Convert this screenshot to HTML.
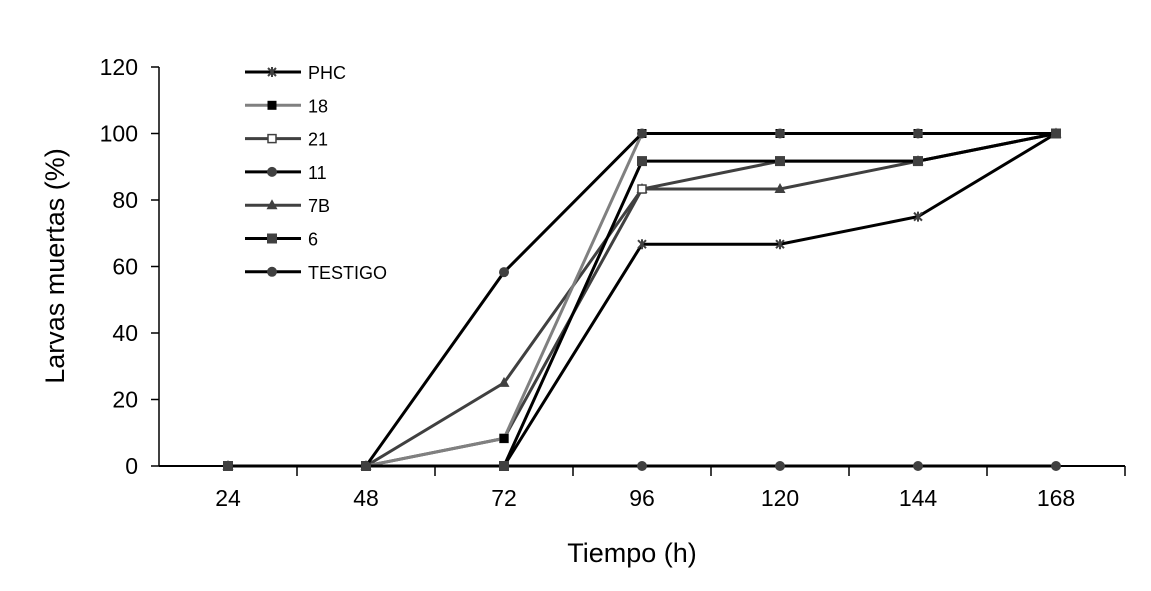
<!DOCTYPE html>
<html><head><meta charset="utf-8"><style>
body{margin:0;background:#fff}
svg{display:block;font-family:"Liberation Sans",Arial,sans-serif}
</style></head><body>
<svg id="chart" width="1151" height="591"></svg>
<script>
const categories=["24","48","72","96","120","144","168"];
const yTicks=[0,20,40,60,80,100,120];
const seriesNames=["PHC","18","21","11","7B","6","TESTIGO"];
const phc=[0,0,0,66.7,66.7,75,100];
const s18=[0,0,8.3,100,100,100,100];
const s21=[0,0,8.3,83.3,91.7,91.7,100];
const s11=[0,0,58.3,100,100,100,100];
const s7b=[0,0,25,83.3,83.3,91.7,100];
const s6=[0,0,0,91.7,91.7,91.7,100];
const testigo=[0,0,0,0,0,0,0];
const values=[phc,s18,s21,s11,s7b,s6,testigo];
const colors=["#000","#808080","#404040","#000","#404040","#000","#000"];
const markers=["x","fsq","osq","circ","tri","sq","circ"];

const NS="http://www.w3.org/2000/svg";
const svg=document.getElementById('chart');
function el(t,a,p){const e=document.createElementNS(NS,t);for(const k in a)e.setAttribute(k,a[k]);(p||svg).appendChild(e);return e;}
const x0=159,x1=1125,step=(x1-x0)/categories.length;
const X=i=>x0+step*(i+0.5);
const Y=v=>466-v*(466-67)/120;

let ya=el('line',{x1:x0,y1:67,x2:x0,y2:466,stroke:'#000','stroke-width':1.5});

let xa=el('line',{x1:x0,y1:466,x2:x1,y2:466,stroke:'#000','stroke-width':2});

yTicks.forEach(t=>{
  let l=el('line',{x1:151,x2:x0,y1:Y(t),y2:Y(t),stroke:'#000','stroke-width':1.5});
  
  let tx=el('text',{x:138,y:Y(t)+8,'text-anchor':'end','font-size':23});tx.textContent=t;
  
});
categories.forEach((c,i)=>{
  let l=el('line',{x1:x0+step*(i+1),x2:x0+step*(i+1),y1:466,y2:476,stroke:'#000','stroke-width':1.5});
  
  let tx=el('text',{x:X(i),y:506,'text-anchor':'middle','font-size':23});tx.textContent=c;
  
});
let yt=el('text',{transform:'translate(64,266) rotate(-90)','text-anchor':'middle','font-size':27});yt.textContent='Larvas muertas (%)';

let xt=el('text',{x:632,y:562,'text-anchor':'middle','font-size':27});xt.textContent='Tiempo (h)';


function marker(type,x,y,g){
  const c='#404040';
  if(type=='x'){el('path',{d:`M${x-4} ${y-4}L${x+4} ${y+4}M${x-4} ${y+4}L${x+4} ${y-4}M${x} ${y-5}L${x} ${y+5}`,stroke:c,'stroke-width':2},g);}
  else if(type=='fsq')el('rect',{x:x-4.5,y:y-4.5,width:9,height:9,fill:'#000'},g);
  else if(type=='osq')el('rect',{x:x-4,y:y-4,width:8,height:8,fill:'#fff',stroke:c,'stroke-width':1.5},g);
  else if(type=='sq')el('rect',{x:x-5,y:y-5,width:10,height:10,fill:c},g);
  else if(type=='circ')el('circle',{cx:x,cy:y,r:5,fill:c},g);
  else if(type=='tri')el('path',{d:`M${x} ${y-6}L${x+5.5} ${y+4}L${x-5.5} ${y+4}Z`,fill:c},g);
}
const order=[6,0,4,2,1,5,3];
order.forEach(si=>{
  const g=el('g',{});
  
  
  const pts=values[si].map((v,i)=>X(i)+','+Y(v)).join(' ');
  el('polyline',{points:pts,fill:'none',stroke:colors[si],'stroke-width':3},g);
  values[si].forEach((v,i)=>marker(markers[si],X(i),Y(v),g));
});
seriesNames.forEach((n,i)=>{
  const y=72+i*33.3;
  const g=el('g',{});
  
  
  el('line',{x1:245,x2:301,y1:y,y2:y,stroke:colors[i],'stroke-width':3},g);
  marker(markers[i],272,y,g);
  const t=el('text',{x:308,y:y+7,'font-size':18},g);t.textContent=n;
});
</script>
</body></html>
